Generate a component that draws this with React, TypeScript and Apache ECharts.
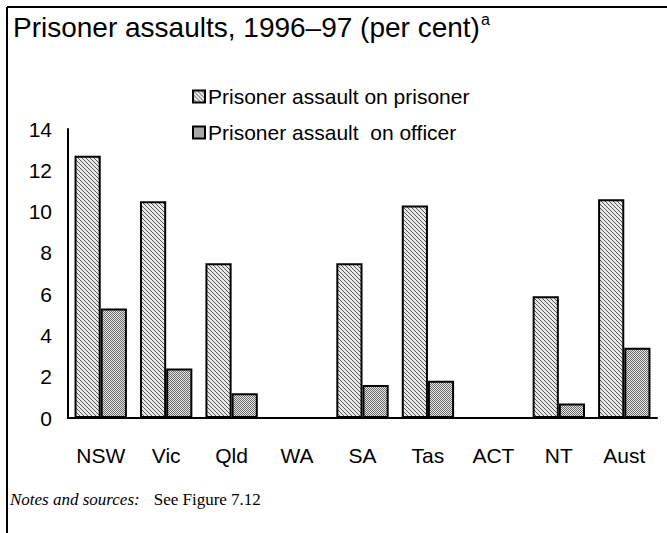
import React, { useEffect, useRef } from "react";
import * as echarts from "echarts";

const categories = ["NSW", "Vic", "Qld", "WA", "SA", "Tas", "ACT", "NT", "Aust"];
const onPrisoner = [12.7, 10.5, 7.5, 0, 7.5, 10.3, 0, 5.9, 10.6];
const onOfficer = [5.3, 2.4, 1.2, 0, 1.6, 1.8, 0, 0.7, 3.4];
const seriesNames = ["Prisoner assault on prisoner", "Prisoner assault  on officer"];

const SANS = "Liberation Sans, Arial, sans-serif";
const SERIF = "Liberation Serif, Times New Roman, serif";

function makeHatch(): HTMLCanvasElement {
  const c = document.createElement("canvas");
  c.width = 4;
  c.height = 4;
  const ctx = c.getContext("2d")!;
  ctx.fillStyle = "#e8e8e8";
  ctx.fillRect(0, 0, 4, 4);
  ctx.fillStyle = "#5a5a5a";
  for (let i = 0; i < 4; i++) {
    ctx.fillRect(i, i, 1, 1);
  }
  return c;
}

function makeDots(): HTMLCanvasElement {
  const c = document.createElement("canvas");
  c.width = 2;
  c.height = 2;
  const ctx = c.getContext("2d")!;
  ctx.fillStyle = "#e4e4e4";
  ctx.fillRect(0, 0, 2, 2);
  ctx.fillStyle = "#6e6e6e";
  ctx.fillRect(0, 0, 1, 1);
  ctx.fillRect(1, 1, 1, 1);
  return c;
}

export default function App() {
  const ref = useRef<HTMLDivElement>(null);
  useEffect(() => {
    if (!ref.current) return;
    const chart = echarts.init(ref.current, undefined, { renderer: "svg" });
    const hatch = { image: makeHatch(), repeat: "repeat" } as any;
    const dots = { image: makeDots(), repeat: "repeat" } as any;
    chart.setOption({
      animation: false,
      backgroundColor: "#ffffff",
      textStyle: { fontFamily: SANS },
      title: {
        left: 13,
        top: 11,
        padding: 0,
        text: "{t|Prisoner assaults, 1996–97 (per cent)}{s|a}",
        textStyle: {
          fontWeight: "normal",
          rich: {
            t: { fontSize: 28, color: "#000", fontWeight: "normal", fontFamily: SANS },
            s: { fontSize: 16, color: "#000", fontWeight: "normal", padding: [0, 0, 16, 1], fontFamily: SANS },
          },
        },
      },
      legend: {
        orient: "vertical",
        left: 192,
        top: 86,
        padding: 0,
        itemWidth: 12,
        itemHeight: 12,
        itemGap: 15,
        icon: "rect",
        textStyle: { fontSize: 21, color: "#000", padding: [0, 0, 0, -2] },
        data: seriesNames,
      },
      grid: { left: 68, right: 10, top: 129, bottom: 115 },
      xAxis: {
        type: "category",
        data: categories,
        axisLine: { lineStyle: { color: "#000", width: 2 } },
        axisTick: { show: false },
        axisLabel: { fontSize: 21, color: "#000", margin: 27 },
      },
      yAxis: {
        type: "value",
        min: 0,
        max: 14,
        interval: 2,
        splitLine: { show: false },
        axisLine: { show: true, lineStyle: { color: "#000", width: 2 } },
        axisTick: { show: false },
        axisLabel: { fontSize: 21, color: "#000", margin: 16 },
      },
      series: [
        {
          name: seriesNames[0],
          type: "bar",
          data: onPrisoner,
          barGap: "0%",
          barCategoryGap: "20%",
          itemStyle: { color: hatch, borderColor: "#000", borderWidth: 2 },
        },
        {
          name: seriesNames[1],
          type: "bar",
          data: onOfficer,
          itemStyle: { color: dots, borderColor: "#000", borderWidth: 2 },
        },
      ],
      graphic: [
        { type: "line", shape: { x1: 7, y1: 7, x2: 667, y2: 7 }, style: { stroke: "#000", lineWidth: 2 } },
        { type: "line", shape: { x1: 7, y1: 7, x2: 7, y2: 533 }, style: { stroke: "#000", lineWidth: 2 } },
        {
          type: "text",
          left: 10,
          top: 491,
          style: {
            text: "{i|Notes and sources:}{r|See Figure 7.12}",
            rich: {
              i: { fontSize: 17, fontStyle: "italic", fontFamily: SERIF, fill: "#000" },
              r: { fontSize: 17, fontFamily: SERIF, fill: "#000", padding: [0, 0, 0, 14] },
            },
          },
        },
      ],
    });
    return () => chart.dispose();
  }, []);
  return (
    <div
      ref={ref}
      style={{ position: "fixed", left: 0, top: 0, width: 667, height: 533 }}
    />
  );
}
